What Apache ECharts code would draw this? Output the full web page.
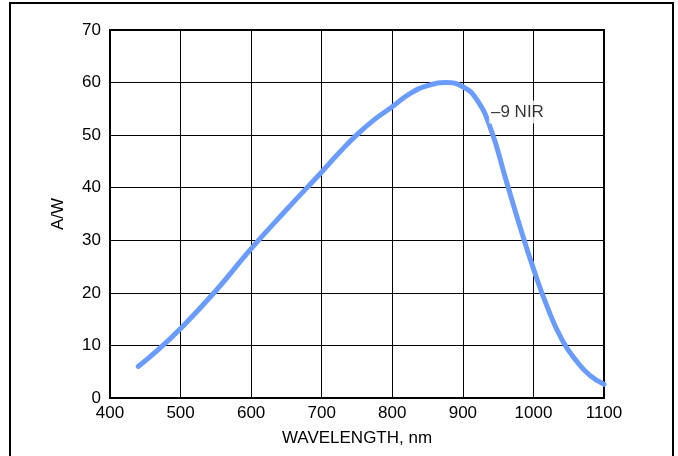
<!DOCTYPE html>
<html>
<head>
<meta charset="utf-8">
<script src="https://cdn.jsdelivr.net/npm/echarts@6/dist/echarts.min.js"></script>
<style>
  html, body { margin: 0; padding: 0; background: #fff; }
  #chart { width: 678px; height: 456px; }
</style>
</head>
<body>
<div id="chart"></div>
<script>
// Responsivity curve (wavelength nm -> A/W)
const wavelengths = [440, 470, 500, 550, 600, 650, 700, 725, 750, 775, 800, 825, 850, 875, 900, 920, 940, 960, 980, 1000, 1020, 1040, 1060, 1080, 1100];
const responsivity = [6.0, 9.4, 13.2, 20.4, 28.4, 35.8, 43.0, 46.7, 50.1, 53.0, 55.4, 57.9, 59.4, 60.0, 59.2, 56.7, 51.0, 42.0, 33.0, 24.6, 17.2, 11.2, 7.2, 4.3, 2.6];

const xTicks = [400, 500, 600, 700, 800, 900, 1000, 1100];
const yTicks = [0, 10, 20, 30, 40, 50, 60, 70];

const curveLabel = '–9 NIR';
const curveLabelAt = [937, 54.4];

const font = 'Liberation Sans, Arial, Helvetica, sans-serif';

const chart = echarts.init(document.getElementById('chart'));

const option = {
    animation: false,
    backgroundColor: '#fff',
    graphic: [{
        type: 'rect',
        shape: { x: 10, y: 3, width: 663, height: 470 },
        style: { fill: 'none', stroke: '#000', lineWidth: 2 },
        silent: true
    }],
    grid: {
        left: 110, right: 74, top: 30, bottom: 58,
        show: true,
        borderColor: '#000',
        borderWidth: 2
    },
    xAxis: {
        type: 'value',
        min: xTicks[0],
        max: xTicks[xTicks.length - 1],
        interval: 100,
        name: 'WAVELENGTH, nm',
        nameLocation: 'middle',
        nameGap: 32,
        nameTextStyle: { color: '#000', fontSize: 17, fontFamily: font },
        axisLine: { lineStyle: { color: '#000', width: 2 } },
        axisTick: { show: false },
        axisLabel: { color: '#000', fontSize: 17, fontFamily: font, margin: 7, formatter: v => String(v) },
        splitLine: { show: true, lineStyle: { color: '#000', width: 1 } }
    },
    yAxis: {
        type: 'value',
        min: yTicks[0],
        max: yTicks[yTicks.length - 1],
        interval: 10,
        name: 'A/W',
        nameLocation: 'middle',
        nameGap: 43,
        nameTextStyle: { color: '#000', fontSize: 17, fontFamily: font },
        axisLine: { lineStyle: { color: '#000', width: 2 } },
        axisTick: { show: false },
        axisLabel: { color: '#000', fontSize: 17, fontFamily: font, margin: 9 },
        splitLine: { show: true, lineStyle: { color: '#000', width: 1 } }
    },
    series: [
        {
            type: 'line',
            data: wavelengths.map((w, i) => [w, responsivity[i]]),
            smooth: 0.5,
            symbol: 'none',
            lineStyle: { color: '#6a9cff', width: 5, cap: 'round' },
            z: 3
        },
        {
            type: 'scatter',
            data: [curveLabelAt],
            symbolSize: 0,
            silent: true,
            z: 4,
            label: {
                show: true,
                position: 'right',
                distance: 0,
                formatter: curveLabel,
                color: '#000',
                fontSize: 17,
                fontFamily: font,
                backgroundColor: '#fff',
                padding: [3, 2]
            }
        }
    ]
};

chart.setOption(option);
</script>
</body>
</html>
